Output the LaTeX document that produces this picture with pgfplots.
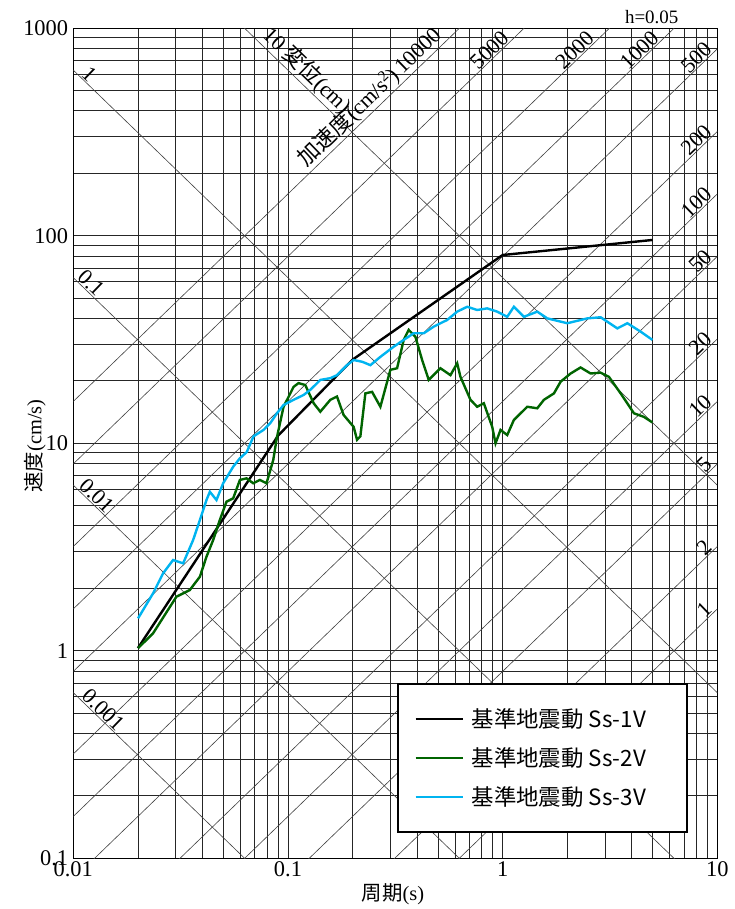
\documentclass[border=0pt]{standalone}
\usepackage{fontspec}
\setmainfont{Liberation Serif}
\newfontfamily\cjk{Noto Sans CJK JP}
\usepackage{pgfplots}
\pgfplotsset{compat=1.18}
\definecolor{ssgreen}{RGB}{0,100,0}
\definecolor{sscyan}{RGB}{0,180,240}
\tikzset{dlab/.style={inner sep=1bp, font=\fontsize{22}{24}\selectfont}}
\begin{document}
\begin{tikzpicture}
\begin{axis}[
  name=ax,
  scale only axis, width=644bp, height=830bp,
  xmode=log, ymode=log,
  xmin=0.01, xmax=10, ymin=0.1, ymax=1000,
  xtick={0.01,0.1,1,10}, xticklabels={0.01,0.1,1,10},
  ytick={0.1,1,10,100,1000}, yticklabels={0.1,1,10,100,1000},
  grid=both,
  major grid style={black!85, line width=0.8bp},
  minor grid style={black!85, line width=0.8bp},
  axis line style={black, line width=0.9bp},
  major tick length=0pt, minor tick length=0pt,
  tick label style={font=\fontsize{22.5}{24}\selectfont},
  yticklabel style={inner xsep=5bp},
  /pgf/number format/assume math mode=true,
  clip mode=individual,
  xlabel={{\cjk 周期}(s)},
  ylabel={{\cjk 速度}(cm/s)},
  label style={font=\fontsize{20.5}{24}\selectfont},
  xlabel style={at={(axis description cs:0.4964,-0.043)}, anchor=center},
  ylabel style={at={(axis description cs:-0.0595,0.4967)}, anchor=center},
  legend style={at={(axis description cs:0.502,0.2116)}, anchor=north west,
    draw=black, line width=2.2bp, fill=white, inner xsep=17bp, inner ysep=23bp,
    row sep=14.5bp, column sep=6bp, font=\cjk\fontsize{22.5}{25}\selectfont, cells={anchor=west}},
  legend image code/.code={\draw[#1, line width=2bp] (0bp,0bp) -- (47bp,0bp);},
]
% acceleration lines (cm/s^2): V = A T / (2 pi)
\addplot[forget plot, black!75, line width=0.6bp] coordinates {(0.01,0.0015915) (10,1.59155)};
\addplot[forget plot, black!75, line width=0.6bp] coordinates {(0.01,0.003183) (10,3.1831)};
\addplot[forget plot, black!75, line width=0.6bp] coordinates {(0.01,0.0079577) (10,7.9577)};
\addplot[forget plot, black!75, line width=0.6bp] coordinates {(0.01,0.015915) (10,15.9155)};
\addplot[forget plot, black!75, line width=0.6bp] coordinates {(0.01,0.03183) (10,31.831)};
\addplot[forget plot, black!75, line width=0.6bp] coordinates {(0.01,0.079577) (10,79.577)};
\addplot[forget plot, black!75, line width=0.6bp] coordinates {(0.01,0.159155) (10,159.155)};
\addplot[forget plot, black!75, line width=0.6bp] coordinates {(0.01,0.31831) (10,318.31)};
\addplot[forget plot, black!75, line width=0.6bp] coordinates {(0.01,0.79577) (10,795.77)};
\addplot[forget plot, black!75, line width=0.6bp] coordinates {(0.01,1.59155) (10,1591.55)};
\addplot[forget plot, black!75, line width=0.6bp] coordinates {(0.01,3.1831) (10,3183.1)};
\addplot[forget plot, black!75, line width=0.6bp] coordinates {(0.01,7.9577) (10,7957.7)};
\addplot[forget plot, black!75, line width=0.6bp] coordinates {(0.01,15.9155) (10,15915.5)};
% displacement lines (cm): V = 2 pi D / T
\addplot[forget plot, black!75, line width=0.6bp] coordinates {(0.01,6283.2) (10,6.2832)};
\addplot[forget plot, black!75, line width=0.6bp] coordinates {(0.01,628.32) (10,0.62832)};
\addplot[forget plot, black!75, line width=0.6bp] coordinates {(0.01,62.832) (10,0.062832)};
\addplot[forget plot, black!75, line width=0.6bp] coordinates {(0.01,6.2832) (10,0.0062832)};
\addplot[forget plot, black!75, line width=0.6bp] coordinates {(0.01,0.62832) (10,0.00062832)};

% Ss-1V
\addplot[black, line width=2.4bp] coordinates {
(0.02,1.03) (0.09,10.9) (0.2,25.3) (1.0,80.8) (5.0,95.5)};
\addlegendentry{基準地震動 Ss-1V\hspace*{22bp}}
% Ss-2V
\addplot[ssgreen, line width=2.4bp] coordinates {
(0.02004,1.03) (0.02353,1.214) (0.03023,1.823) (0.0349,1.963) (0.03888,2.276)
(0.04173,2.841) (0.04483,3.42) (0.04816,4.27) (0.05171,5.23) (0.05557,5.43)
(0.05973,6.66) (0.06411,6.78) (0.06888,6.42) (0.07402,6.66) (0.07947,6.42)
(0.08541,8.31) (0.08869,10.6) (0.09539,15.0) (0.1062,18.7) (0.1120,19.5)
(0.1204,19.1) (0.1317,15.6) (0.1415,14.2) (0.1575,16.2) (0.1692,16.8)
(0.1816,13.7) (0.2023,12.0) (0.2098,10.4) (0.2174,10.8) (0.2294,17.4)
(0.2465,17.7) (0.2695,15.0) (0.3000,22.6) (0.3224,23.0) (0.3461,31.5)
(0.3652,35.2) (0.3925,32.6) (0.4217,25.2) (0.4527,20.2) (0.5133,23.0)
(0.5715,21.3) (0.6142,24.3) (0.6362,20.9) (0.7085,16.2) (0.7612,15.0)
(0.8173,15.6) (0.8944,12.0) (0.9268,10.0) (0.9777,11.6) (1.0507,10.96)
(1.128,12.95) (1.302,15.0) (1.450,14.75) (1.557,16.2) (1.734,17.4)
(1.862,19.8) (2.074,21.7) (2.308,23.2) (2.570,21.7) (2.861,21.9)
(3.128,20.9) (3.546,17.4) (4.091,13.95) (4.556,13.4) (4.987,12.6)};
\addlegendentry{基準地震動 Ss-2V\hspace*{22bp}}
% Ss-3V
\addplot[sscyan, line width=2.4bp] coordinates {
(0.02004,1.434) (0.02353,1.893) (0.02621,2.363) (0.02917,2.739) (0.03249,2.64)
(0.03617,3.42) (0.03888,4.27) (0.04173,5.33) (0.04327,5.84) (0.04645,5.33)
(0.04991,6.42) (0.05557,7.71) (0.05973,8.47) (0.0643,9.08) (0.06911,10.8)
(0.07696,11.6) (0.08269,12.5) (0.08887,13.95) (0.09539,15.3) (0.1062,16.2)
(0.1183,17.1) (0.1271,18.1) (0.1415,20.2) (0.1575,20.6) (0.1692,21.3)
(0.1884,23.8) (0.2023,25.2) (0.2221,24.7) (0.2421,23.8) (0.2695,26.1)
(0.3108,29.2) (0.3461,31.5) (0.3854,33.9) (0.4291,33.9) (0.4776,36.5)
(0.5514,39.3) (0.6142,43.1) (0.6838,45.5) (0.7612,43.9) (0.8478,44.7)
(0.9437,43.1) (1.0507,40.7) (1.128,45.5) (1.256,40.7) (1.450,43.1)
(1.614,40.0) (2.001,37.9) (2.481,40.0) (2.861,40.5) (3.423,35.8)
(3.813,37.9) (4.398,34.5) (4.987,31.5)};
\addlegendentry{基準地震動 Ss-3V\hspace*{22bp}}

% diagonal labels
\node[dlab, rotate=44, anchor=south east] at (axis cs:0.5517,878) {{\cjk 加速度}(cm/s\textsuperscript{2})\,10000};
\node[dlab, rotate=44, anchor=south east] at (axis cs:1.1033,878) {5000};
\node[dlab, rotate=44, anchor=south east] at (axis cs:2.758,878) {2000};
\node[dlab, rotate=44, anchor=south east] at (axis cs:5.517,878) {1000};
\node[dlab, rotate=44, anchor=south east] at (axis cs:9.73,774.4) {500};
\node[dlab, rotate=44, anchor=south east] at (axis cs:9.73,309.7) {200};
\node[dlab, rotate=44, anchor=south east] at (axis cs:9.73,154.9) {100};
\node[dlab, rotate=44, anchor=south east] at (axis cs:9.73,77.4) {50};
\node[dlab, rotate=44, anchor=south east] at (axis cs:9.73,30.97) {20};
\node[dlab, rotate=44, anchor=south east] at (axis cs:9.73,15.49) {10};
\node[dlab, rotate=44, anchor=south east] at (axis cs:9.73,7.74) {5};
\node[dlab, rotate=44, anchor=south east] at (axis cs:9.73,3.097) {2};
\node[dlab, rotate=44, anchor=south east] at (axis cs:9.73,1.549) {1};
\node[dlab, rotate=-44, anchor=south west] at (axis cs:0.0716,878) {10 {\cjk 変位}(cm)};
\node[dlab, rotate=-44, anchor=south west] at (axis cs:0.0106,592) {1};
\node[dlab, rotate=-44, anchor=south west] at (axis cs:0.01012,62.1) {0.1};
\node[dlab, rotate=-44, anchor=south west] at (axis cs:0.01029,6.106) {0.01};
\node[dlab, rotate=-44, anchor=south west] at (axis cs:0.0106,0.592) {0.001};
\end{axis}
\node[anchor=base, font=\fontsize{19}{22}\selectfont, inner sep=0pt] at ([shift={(578.4bp,5bp)}]ax.north west) {h=0.05};
\pgfresetboundingbox
\path ([shift={(-73.3bp,-50.7bp)}]ax.south west) rectangle ([shift={(17.7bp,28.3bp)}]ax.north east);
\end{tikzpicture}
\end{document}
